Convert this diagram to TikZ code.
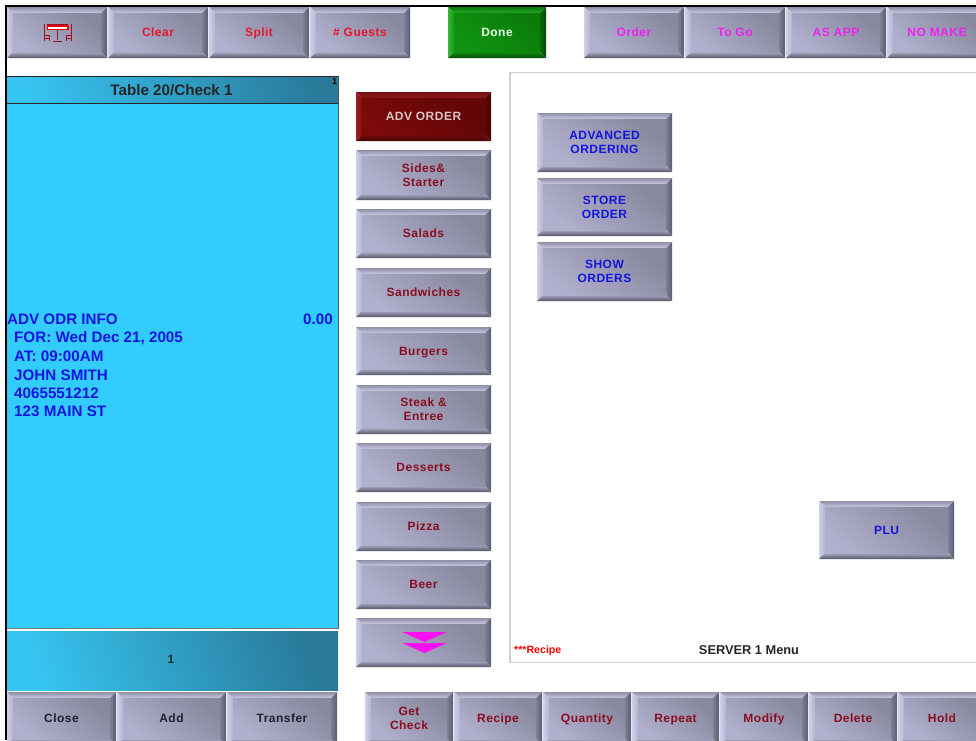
\documentclass[tikz,border=0pt]{standalone}
\usepackage{fontspec}
\setmainfont{Liberation Sans}
\newfontfamily\btnfont[LetterSpace=4]{Liberation Sans}
\definecolor{greyTopA}{HTML}{8E8EA6}
\definecolor{greyTopB}{HTML}{C8C8E0}
\definecolor{greyLeftA}{HTML}{CFCFEA}
\definecolor{greyLeftB}{HTML}{B4B4D0}
\definecolor{greyRightA}{HTML}{7E7E96}
\definecolor{greyRightB}{HTML}{5C5C70}
\definecolor{greyBotA}{HTML}{A8A8C2}
\definecolor{greyBotB}{HTML}{565668}
\definecolor{greyFaceA}{HTML}{B0B0CE}
\definecolor{greyFaceB}{HTML}{88889E}
\definecolor{greenTopA}{HTML}{0A7A0A}
\definecolor{greenTopB}{HTML}{22A822}
\definecolor{greenLeftA}{HTML}{38B838}
\definecolor{greenLeftB}{HTML}{169616}
\definecolor{greenRightA}{HTML}{0A6A0A}
\definecolor{greenRightB}{HTML}{064C06}
\definecolor{greenBotA}{HTML}{0E8A0E}
\definecolor{greenBotB}{HTML}{054A05}
\definecolor{greenFaceA}{HTML}{109410}
\definecolor{greenFaceB}{HTML}{0A7C0A}
\definecolor{redTopA}{HTML}{701010}
\definecolor{redTopB}{HTML}{8E1818}
\definecolor{redLeftA}{HTML}{9E2020}
\definecolor{redLeftB}{HTML}{7C0C0C}
\definecolor{redRightA}{HTML}{5C0505}
\definecolor{redRightB}{HTML}{480303}
\definecolor{redBotA}{HTML}{700A0A}
\definecolor{redBotB}{HTML}{480303}
\definecolor{redFaceA}{HTML}{7C0A0A}
\definecolor{redFaceB}{HTML}{620606}
\definecolor{txtRed}{HTML}{E8182C}
\definecolor{txtPink}{HTML}{EE22EE}
\definecolor{arrowPink}{HTML}{FF10F0}
\definecolor{txtMaroon}{HTML}{8A0E20}
\definecolor{txtBlue}{HTML}{1414E0}
\definecolor{txtDark}{HTML}{20202E}
\definecolor{txtPale}{HTML}{D8C4C4}
\definecolor{panelBlue}{HTML}{33CCFF}
\definecolor{panelLight}{HTML}{36C4F0}
\definecolor{panelDark}{HTML}{2A7A9A}
\definecolor{menuEdge}{HTML}{CFCFCF}
\definecolor{iconRed}{HTML}{A01020}
\tikzset{
  x=1pt,y=-1pt,
  btnlabel/.style={inner sep=0pt,align=center,font=\btnfont\fontsize{12}{14.3}\selectfont\bfseries},
  leftline/.style={inner sep=0pt,anchor=base west,text=txtBlue,font=\fontsize{15.2}{17}\selectfont\bfseries},
  icon/.style={draw=iconRed,line width=1pt},
}
% \btn{palette}{name}{x0}{y0}{x1}{y1}{text colour}{text}
\newcommand{\btn}[8]{%
  \def\bw{6}%
  \shade[top color=#1TopA,bottom color=#1TopB] (#3,#4)--(#5,#4)--(#5-\bw,#4+\bw)--(#3+\bw,#4+\bw)--cycle;
  \shade[left color=#1LeftA,right color=#1LeftB] (#3,#4)--(#3+\bw,#4+\bw)--(#3+\bw,#6-\bw)--(#3,#6)--cycle;
  \shade[left color=#1RightA,right color=#1RightB] (#5,#4)--(#5-\bw,#4+\bw)--(#5-\bw,#6-\bw)--(#5,#6)--cycle;
  \shade[top color=#1BotA,bottom color=#1BotB] (#3,#6)--(#3+\bw,#6-\bw)--(#5-\bw,#6-\bw)--(#5,#6)--cycle;
  \shade[left color=#1FaceA,right color=#1FaceB,shading angle=140] (#3+\bw,#4+\bw) rectangle (#5-\bw,#6-\bw);
  \node[btnlabel,text=#7] (#2) at ({(#3+#5)/2},{(#4+#6)/2}) {\rule{0pt}{11.2pt}#8\rule[-2.6pt]{0pt}{2.6pt}};
}
\begin{document}
\begin{tikzpicture}
\useasboundingbox (0,0) rectangle (976,740);
\clip (0,0) rectangle (976,740);
\fill[white] (0,0) rectangle (976,740);
% frame
\fill[black] (5,5) rectangle (976,7);
\fill[black] (5,5) rectangle (7,740);
% top row
\btn{grey}{tbl}{7}{7}{107}{58}{iconRed}{\phantom{x}}
\btn{grey}{clear}{108}{7}{208}{58}{txtRed}{Clear}
\btn{grey}{split}{209}{7}{309}{58}{txtRed}{Split}
\btn{grey}{guests}{310}{7}{410}{58}{txtRed}{\# Guests}
\btn{green}{done}{448}{7}{546}{58}{white!90!green}{Done}
\btn{grey}{order}{584}{7}{684}{58}{txtPink}{Order}
\btn{grey}{togo}{685}{7}{785}{58}{txtPink}{To Go}
\btn{grey}{asapp}{786}{7}{886}{58}{txtPink}{AS APP}
\btn{grey}{nomake}{887}{7}{987}{58}{txtPink}{NO MAKE}
% table icon
\fill[red!90!black] (46.5,25) rectangle (68.5,30);
\fill[white] (48,27) rectangle (67,29);
\draw[icon] (44,24)--(44,41) (44,35)--(49,35)--(49,41) (44,38)--(49,38);
\draw[icon] (71,24)--(71,41) (71,35)--(66,35)--(66,41) (71,38)--(66,38);
\draw[icon] (47,24.5)--(68,24.5) (57.5,30)--(57.5,40) (53,41)--(62,41);
% check panel
\shade[left color=panelLight,right color=panelDark,shading angle=100] (7,77) rectangle (338,103);
\fill[black!85] (7,76) rectangle (338,77.3);
\fill[black!85] (7,103) rectangle (338,104);
\fill[panelBlue] (7,104) rectangle (338,628);
\fill[black!65] (338,76) rectangle (339,628);
\fill[black!55] (7,627.5) rectangle (339,628.5);
\shade[left color=panelLight,right color=panelDark,shading angle=110] (7,631) rectangle (338,690);
\node[inner sep=0pt,text=black!85,font=\fontsize{15.2}{17}\selectfont\bfseries] (title) at (171.5,90) {Table 20/Check 1};
\node[inner sep=0pt,text=black,font=\fontsize{9}{10}\selectfont\bfseries] (seat) at (334.5,81) {1};
\node[inner sep=0pt,text=black!85,font=\fontsize{12}{13}\selectfont\bfseries] (count) at (171,659.5) {1};
\node[leftline] (l1) at (7,324) {ADV ODR INFO};
\node[leftline,anchor=base east] (price) at (333,324) {0.00};
\node[leftline] (l2) at (14,342) {FOR: Wed Dec 21, 2005};
\node[leftline] (l3) at (14,361) {AT: 09:00AM};
\node[leftline] (l4) at (14,380) {JOHN SMITH};
\node[leftline] (l5) at (14,398) {4065551212};
\node[leftline] (l6) at (14,416) {123 MAIN ST};
% category column
\btn{red}{adv}{356}{92}{491}{141}{txtPale}{ADV ORDER}
\btn{grey}{sides}{356}{150}{491}{200}{txtMaroon}{Sides\&\\Starter}
\btn{grey}{salads}{356}{209}{491}{258}{txtMaroon}{Salads}
\btn{grey}{sandw}{356}{268}{491}{317}{txtMaroon}{Sandwiches}
\btn{grey}{burgers}{356}{327}{491}{375}{txtMaroon}{Burgers}
\btn{grey}{steak}{356}{385}{491}{434}{txtMaroon}{Steak \&\\Entree}
\btn{grey}{desserts}{356}{443}{491}{492}{txtMaroon}{Desserts}
\btn{grey}{pizza}{356}{502}{491}{551}{txtMaroon}{Pizza}
\btn{grey}{beer}{356}{560}{491}{609}{txtMaroon}{Beer}
\btn{grey}{more}{356}{618}{491}{667}{txtPink}{\phantom{x}}
\fill[arrowPink] (402,632)--(447,632)--(424.5,642)--cycle;
\fill[arrowPink] (402,643)--(447,643)--(424.5,653)--cycle;
% menu panel
\fill[menuEdge] (509,72) rectangle (976,73);
\fill[menuEdge] (509,72) rectangle (511,663);
\fill[menuEdge] (509,662) rectangle (976,663);
\btn{grey}{advanced}{537}{113}{672}{172}{txtBlue}{ADVANCED\\ORDERING}
\btn{grey}{store}{537}{178}{672}{236}{txtBlue}{STORE\\ORDER}
\btn{grey}{show}{537}{242}{672}{301}{txtBlue}{SHOW\\ORDERS}
\btn{grey}{plu}{819}{501}{954}{559}{txtBlue}{PLU}
\node[inner sep=0pt,anchor=base west,text=red,font=\fontsize{10.6}{12}\selectfont\bfseries] (recipeNote) at (514,653) {***Recipe};
\node[inner sep=0pt,anchor=base,text=black!85,font=\fontsize{12.8}{14}\selectfont\bfseries] (menuName) at (749,654) {SERVER 1 Menu};
% bottom left
\btn{grey}{close}{7}{692}{116}{745}{txtDark}{Close}
\btn{grey}{add}{117}{692}{226}{745}{txtDark}{Add}
\btn{grey}{transfer}{227}{692}{337}{745}{txtDark}{Transfer}
% bottom right
\btn{grey}{getcheck}{365}{692}{453}{745}{txtMaroon}{Get\\Check}
\btn{grey}{recipe}{454}{692}{542}{745}{txtMaroon}{Recipe}
\btn{grey}{quantity}{543}{692}{631}{745}{txtMaroon}{Quantity}
\btn{grey}{repeat}{632}{692}{719}{745}{txtMaroon}{Repeat}
\btn{grey}{modify}{720}{692}{808}{745}{txtMaroon}{Modify}
\btn{grey}{delete}{809}{692}{897}{745}{txtMaroon}{Delete}
\btn{grey}{hold}{898}{692}{986}{745}{txtMaroon}{Hold}
\end{tikzpicture}
\end{document}
